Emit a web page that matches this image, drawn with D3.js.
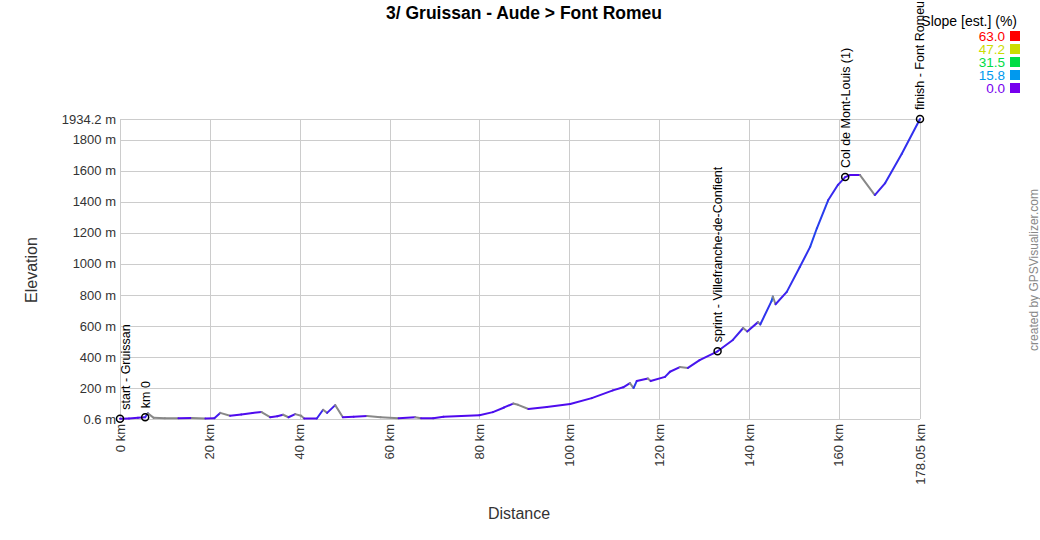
<!DOCTYPE html>
<html>
<head>
<meta charset="utf-8">
<script src="https://cdn.jsdelivr.net/npm/d3@7"></script>
<style>
  body { margin: 0; background: #fff; }
  svg { font-family: Arial, "Liberation Sans", sans-serif; display: block; }
</style>
</head>
<body>
<div id="chart"></div>
<script>
// Profile points
const distKm = [0, 2, 4, 5.6, 6.2, 7.5, 10, 13, 16, 19, 21, 22.3, 24.5, 27, 29.5, 31.5, 33.4, 35, 36.3, 37.5,
  39, 40.3, 41, 43.8, 45.2, 46.1, 47.9, 49.6, 52, 55, 58, 62, 65.7, 67, 69.7, 72, 76, 80, 83, 85.5,
  87.5, 88.6, 90.9, 95, 100.2, 105, 109.7, 112, 113.5, 114.3, 115, 117.5, 118.1, 121.3, 122.4, 124.6, 126.4, 129, 133, 136.4,
  138.7, 139.6, 142, 142.5, 145.0, 145.3, 145.9, 148.4, 151.3, 153.6, 155.1, 157.6, 159.8, 161.4, 162.5, 164.7, 168, 170.3, 174, 178.05];
const elevM = [2, 4, 8, 12, 38, 8, 6, 5, 7, 4, 6, 40, 22, 30, 40, 45, 12, 18, 28, 12,
  32, 22, 4, 4, 60, 40, 90, 12, 15, 20, 12, 6, 12, 5, 6, 15, 20, 25, 45, 75,
  100, 92, 65, 78, 97, 135, 185, 205, 232, 200, 245, 262, 245, 272, 305, 335, 330, 380, 437, 510,
  587, 565, 625, 610, 760, 790, 740, 820, 980, 1110, 1230, 1410, 1510, 1560, 1573, 1573, 1444, 1521, 1710, 1934.2];

// Waypoints
const wptNames = ['start - Gruissan', 'km 0', 'sprint - Villefranche-de-Confient', 'Col de Mont-Louis (1)', 'finish - Font Romeu (1)'];
const wptKm = [0, 5.6, 133, 161.4, 178.05];
const wptElev = [2, 12, 437, 1560, 1934.2];

// Axis ticks
const xTicks = [0, 20, 40, 60, 80, 100, 120, 140, 160, 178.05];
const yTicks = [0.6, 200, 400, 600, 800, 1000, 1200, 1400, 1600, 1800, 1934.2];

// Slope legend
const slopeValues = [63.0, 47.2, 31.5, 15.8, 0.0];
const slopeColors = ['#ff0000', '#ccdd00', '#00dd44', '#0099ee', '#7700ee'];

const width = 1040, height = 540;
const margin = { top: 119, right: 120, bottom: 121, left: 120 };

let svg = d3.select('#chart').append('svg')
    .attr('width', width)
    .attr('height', height);

let x = d3.scaleLinear().domain([0, 178.05]).range([margin.left, width - margin.right]),
    y = d3.scaleLinear().domain([0.6, 1934.2]).range([height - margin.bottom, margin.top]);

let slopeColor = d3.scaleLinear()
    .domain(slopeValues.slice().reverse())
    .range(slopeColors.slice().reverse())
    .clamp(true);

// Grid
let grid = svg.append('g').attr('stroke', '#cccccc').attr('stroke-width', 1);
xTicks.forEach((t) => {
  grid.append('line')
      .attr('x1', Math.round(x(t)) + 0.5).attr('x2', Math.round(x(t)) + 0.5)
      .attr('y1', y(1934.2)).attr('y2', y(0.6));
});
yTicks.forEach((t) => {
  grid.append('line')
      .attr('x1', x(0)).attr('x2', x(178.05))
      .attr('y1', Math.round(y(t)) + 0.5).attr('y2', Math.round(y(t)) + 0.5);
});

// Tick labels
svg.append('g').selectAll('text')
    .data(yTicks)
    .join('text')
    .attr('x', x(0) - 4)
    .attr('y', (d) => y(d))
    .attr('dy', '0.35em')
    .attr('text-anchor', 'end')
    .attr('font-size', 13)
    .attr('fill', '#333')
    .text((d) => d + ' m');

svg.append('g').selectAll('text')
    .data(xTicks)
    .join('text')
    .attr('transform', (d) => 'translate(' + x(d) + ',' + (y(0.6) + 5) + ') rotate(-90)')
    .attr('dy', '0.35em')
    .attr('text-anchor', 'end')
    .attr('font-size', 13)
    .attr('fill', '#333')
    .text((d) => d + ' km');

// Profile segments coloured by slope, descents in grey
let segs = d3.range(distKm.length - 1).map((i) => {
  let dz = elevM[i + 1] - elevM[i],
      dx = (distKm[i + 1] - distKm[i]) * 1000;
  return { i: i, slope: dz / dx * 100 };
});

svg.append('g')
    .attr('fill', 'none')
    .attr('stroke-width', 2)
    .attr('stroke-linecap', 'round')
    .selectAll('line')
    .data(segs)
    .join('line')
    .attr('x1', (d) => x(distKm[d.i]))
    .attr('y1', (d) => y(elevM[d.i]))
    .attr('x2', (d) => x(distKm[d.i + 1]))
    .attr('y2', (d) => y(elevM[d.i + 1]))
    .attr('stroke', (d) => d.slope < 0 ? '#888888' : d3.interpolateRgb(slopeColor(d.slope * 1.5), '#2a10ee')(0.5));

// Waypoints
let wpt = svg.append('g');
wptNames.forEach((name, i) => {
  let cx = x(wptKm[i]), cy = y(wptElev[i]);
  wpt.append('circle')
      .attr('cx', cx).attr('cy', cy).attr('r', 3.5)
      .attr('fill', 'none')
      .attr('stroke', '#000')
      .attr('stroke-width', 1.5);
  wpt.append('text')
      .attr('transform', 'translate(' + Math.max(cx, x(0) + 6) + ',' + (cy - 9) + ') rotate(-90)')
      .attr('dy', '0.35em')
      .attr('font-size', 12.5)
      .attr('fill', '#000')
      .text(name);
});

// Title and axis titles
svg.append('text')
    .attr('x', 524).attr('y', 19)
    .attr('text-anchor', 'middle')
    .attr('font-size', 17.5)
    .attr('font-weight', 'bold')
    .attr('fill', '#000')
    .text('3/ Gruissan - Aude > Font Romeu');

svg.append('text')
    .attr('x', 519).attr('y', 519)
    .attr('text-anchor', 'middle')
    .attr('font-size', 16)
    .attr('fill', '#333')
    .text('Distance');

svg.append('text')
    .attr('transform', 'translate(37,270) rotate(-90)')
    .attr('text-anchor', 'middle')
    .attr('font-size', 16)
    .attr('fill', '#333')
    .text('Elevation');

svg.append('text')
    .attr('transform', 'translate(1038,270) rotate(-90)')
    .attr('text-anchor', 'middle')
    .attr('font-size', 12)
    .attr('fill', '#888')
    .text('created by GPSVisualizer.com');

// Legend
let legend = svg.append('g');
legend.append('text')
    .attr('x', 1017).attr('y', 26)
    .attr('text-anchor', 'end')
    .attr('font-size', 14)
    .attr('fill', '#000')
    .text('Slope [est.] (%)');

slopeValues.forEach((v, i) => {
  let cy = 36 + i * 13;
  legend.append('text')
      .attr('x', 1005).attr('y', cy)
      .attr('dy', '0.35em')
      .attr('text-anchor', 'end')
      .attr('font-size', 13.5)
      .attr('fill', slopeColors[i])
      .text(v.toFixed(1));
  legend.append('rect')
      .attr('x', 1010).attr('y', cy - 5)
      .attr('width', 10).attr('height', 10)
      .attr('fill', slopeColors[i]);
});
</script>
</body>
</html>
